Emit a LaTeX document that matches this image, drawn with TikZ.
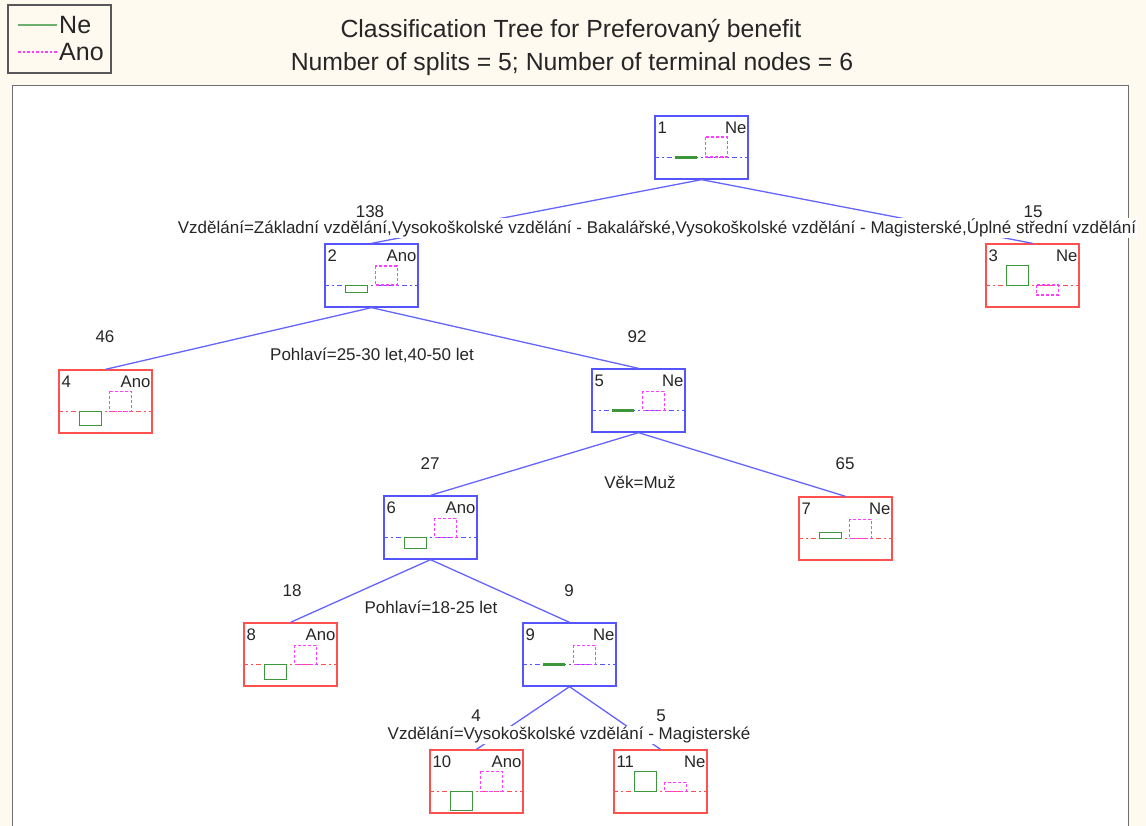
\documentclass[tikz,border=0pt]{standalone}
\usepackage{fontspec}
\setmainfont{Liberation Sans}
\usetikzlibrary{calc}
\definecolor{bg}{RGB}{255,250,240}
\definecolor{nblue}{RGB}{85,85,255}
\definecolor{eblue}{RGB}{100,100,255}
\definecolor{nred}{RGB}{255,80,80}
\definecolor{ngreen}{RGB}{60,150,60}
\definecolor{nmag}{RGB}{255,60,255}
\definecolor{frame}{RGB}{110,110,110}
\tikzset{
  tbox/.style={rectangle,minimum width=93pt,minimum height=63pt,inner sep=0pt,line width=1.3pt},
  ntext/.style={font=\fontsize{16.7}{19}\selectfont,inner sep=0pt,text=black!85},
  lbl/.style={font=\fontsize{17}{20}\selectfont,inner sep=0.5pt,fill=white,text=black!85},
  cnt/.style={font=\fontsize{17}{20}\selectfont,inner sep=0.5pt,text=black!85},
  sepline/.style={line width=1.4pt,dash pattern=on 5pt off 3pt on 2pt off 3pt},
  edge/.style={eblue,line width=1.3pt},
  gbarst/.style={ngreen,line width=1.5pt},
  mbarst/.style={nmag,line width=1.7pt,dash pattern=on 3pt off 2pt},
}
\newcommand\tn[6]{%
  \node[tbox,draw=#6] (#1) at (#2+46.5,#3+31.5) {};
  \node[ntext,anchor=west] (#1num) at ($(#1.north west)+(3,12)$) {#4};
  \node[ntext,anchor=east] (#1cls) at ($(#1.north east)+(-2,12)$) {#5};
  \draw[#6,sepline] ($(#1.north west)+(0,42)$) -- ($(#1.north east)+(0,42)$);
}
\newcommand\gbox[3]{\draw[gbarst] ($(#1.north west)+(21,#2)$) rectangle ($(#1.north west)+(43,#3)$);}
\newcommand\gline[1]{\draw[ngreen,line width=2.4pt] ($(#1.north west)+(21,42)$) -- ($(#1.north west)+(43,42)$);}
\newcommand\magbar[3]{\draw[mbarst] ($(#1.north west)+(51,#2)$) rectangle ($(#1.north west)+(73,#3)$);}
\begin{document}
\begin{tikzpicture}[x=1pt,y=-1pt]
\useasboundingbox (0,0) rectangle (1146,826);
\fill[bg] (0,0) rectangle (1146,826);
\draw[frame,fill=white,line width=1pt] (12,86) rectangle (1128,832);
% legend
\draw[frame!80!black,line width=1.5pt,fill=bg] (8,5) rectangle (111,73);
\coordinate (lg1a) at (18,25); \coordinate (lg1b) at (57,25);
\coordinate (lg2a) at (18,52); \coordinate (lg2b) at (57,52);
\draw[ngreen!75!white,line width=1.8pt] (lg1a) -- (lg1b);
\draw[nmag,line width=1.6pt,dash pattern=on 2.5pt off 2pt] (lg2a) -- (lg2b);
\node[anchor=west,inner sep=0pt,font=\fontsize{25}{28}\selectfont,text=black!85] (lgne) at (59,25) {Ne};
\node[anchor=west,inner sep=0pt,font=\fontsize{25}{28}\selectfont,text=black!85] (lgano) at (59,52) {Ano};
% title
\node[font=\fontsize{24.8}{28}\selectfont,text=black!85] (t1) at (571,31) {Classification Tree for Preferovaný benefit};
\node[font=\fontsize{24.8}{28}\selectfont,text=black!85] (t2) at (572,64) {Number of splits = 5; Number of terminal nodes = 6};
% nodes
\tn{n1}{655}{116}{1}{Ne}{nblue}
\tn{n2}{325}{244}{2}{Ano}{nblue}
\tn{n3}{986}{244}{3}{Ne}{nred}
\tn{n4}{59}{370}{4}{Ano}{nred}
\tn{n5}{592}{369}{5}{Ne}{nblue}
\tn{n6}{384}{496}{6}{Ano}{nblue}
\tn{n7}{799}{497}{7}{Ne}{nred}
\tn{n8}{244}{623}{8}{Ano}{nred}
\tn{n9}{523}{623}{9}{Ne}{nblue}
\tn{n10}{430}{750}{10}{Ano}{nred}
\tn{n11}{614}{750}{11}{Ne}{nred}
% bars
\gline{n1} \magbar{n1}{22}{42}
\gbox{n2}{42}{49} \magbar{n2}{23}{42}
\gbox{n3}{22}{42} \magbar{n3}{42}{52}
\gbox{n4}{42}{56} \magbar{n4}{22}{42}
\gline{n5} \magbar{n5}{23}{42}
\gbox{n6}{42}{53} \magbar{n6}{23}{42}
\gbox{n7}{36}{42} \magbar{n7}{23}{42}
\gbox{n8}{42}{57} \magbar{n8}{23}{42}
\gline{n9} \magbar{n9}{23}{42}
\gbox{n10}{42}{61} \magbar{n10}{22}{42}
\gbox{n11}{22}{42} \magbar{n11}{33}{42}
% edges
\draw[edge] (n1.south) -- (n2.north);
\draw[edge] (n1.south) -- (n3.north);
\draw[edge] (n2.south) -- (n4.north);
\draw[edge] (n2.south) -- (n5.north);
\draw[edge] (n5.south) -- (n6.north);
\draw[edge] (n5.south) -- (n7.north);
\draw[edge] (n6.south) -- (n8.north);
\draw[edge] (n6.south) -- (n9.north);
\draw[edge] (n9.south) -- (n10.north);
\draw[edge] (n9.south) -- (n11.north);
% split labels
\node[lbl] (s1) at (657,228) {Vzdělání=Základní vzdělání,Vysokoškolské vzdělání - Bakalářské,Vysokoškolské vzdělání - Magisterské,Úplné střední vzdělání};
\node[lbl] (s2) at (372,355) {Pohlaví=25-30 let,40-50 let};
\node[lbl] (s5) at (640,482) {Věk=Muž};
\node[lbl] (s6) at (431,607) {Pohlaví=18-25 let};
\node[lbl] (s9) at (569,735) {Vzdělání=Vysokoškolské vzdělání - Magisterské};
% counts
\node[cnt] (c2) at (370,212) {138};
\node[cnt] (c3) at (1033,212) {15};
\node[cnt] (c4) at (105,337) {46};
\node[cnt] (c5) at (637,337) {92};
\node[cnt] (c6) at (430,464) {27};
\node[cnt] (c7) at (845,464) {65};
\node[cnt] (c8) at (292,591) {18};
\node[cnt] (c9) at (569,591) {9};
\node[cnt] (c10) at (476,716) {4};
\node[cnt] (c11) at (661,716) {5};
\end{tikzpicture}
\end{document}
